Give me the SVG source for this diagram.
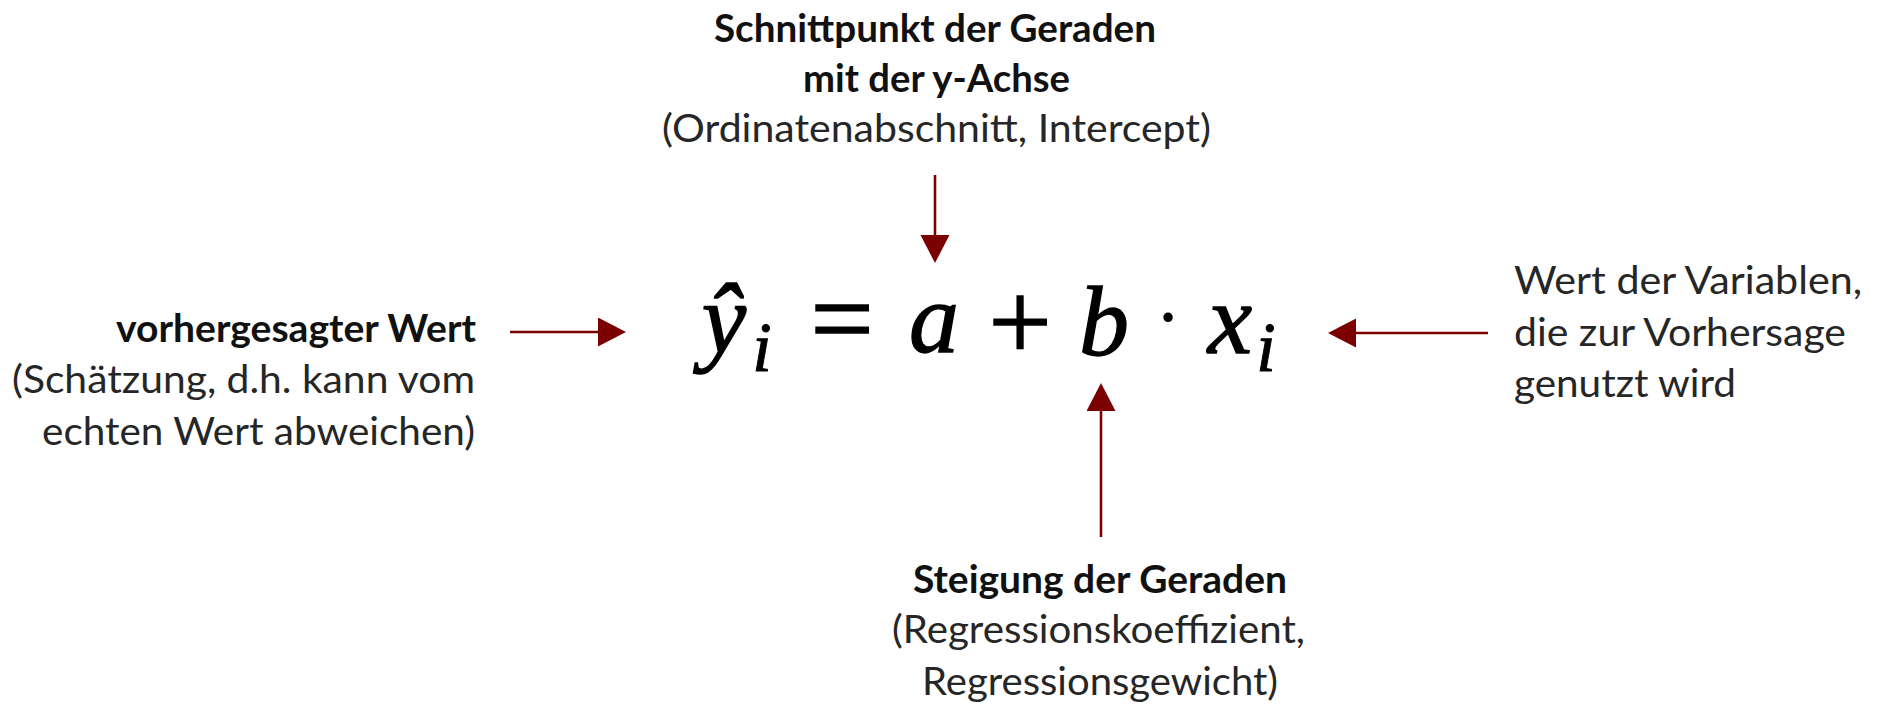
<svg xmlns="http://www.w3.org/2000/svg" width="1880" height="706" viewBox="0 0 1880 706">
<defs>
<style>
.b{font-family:Lato,"Open Sans",sans-serif;font-weight:700;font-size:39px;fill:#111}
.r{font-family:Lato,"Open Sans",sans-serif;font-weight:400;font-size:39px;fill:#262626}
.m{font-family:"Liberation Serif","Times New Roman",serif;font-style:italic;font-size:100px;fill:#000;stroke:#000;stroke-width:1.3}
.s{font-family:"Liberation Serif","Times New Roman",serif;font-style:italic;font-size:70px;fill:#000;stroke:#000;stroke-width:1}
.o{font-family:"Liberation Serif","Times New Roman",serif;font-size:112px;fill:#000;stroke:#000;stroke-width:1.6}
.d{font-family:"Liberation Serif","Times New Roman",serif;font-size:80px;fill:#000}
.c{fill:none;stroke:#7b0000;stroke-width:2.6}
</style>
<marker id="ah" markerUnits="userSpaceOnUse" markerWidth="30" markerHeight="30" refX="0" refY="14.5" orient="auto">
<path d="M0,0 L28,14.5 L0,29 z" fill="#7b0000"/>
</marker>
</defs>
<rect width="1880" height="706" fill="#fff"/>

<g id="formula">
<text class="m" x="724" y="353" text-anchor="middle">ŷ</text>
<text class="s" x="762" y="371" text-anchor="middle">i</text>
<text class="o" x="842" y="356" text-anchor="middle">=</text>
<text class="m" x="934" y="352" text-anchor="middle">a</text>
<text class="o" x="1020" y="360" text-anchor="middle">+</text>
<text class="m" x="1104" y="355" text-anchor="middle">b</text>
<text class="d" x="1168" y="344" text-anchor="middle">·</text>
<text class="m" x="1230" y="353" text-anchor="middle">x</text>
<text class="s" x="1266" y="371" text-anchor="middle">i</text>
</g>

<g id="intercept">
<text class="b" x="714" y="42" textLength="442" lengthAdjust="spacingAndGlyphs">Schnittpunkt der Geraden</text>
<text class="b" x="803" y="92" textLength="267" lengthAdjust="spacingAndGlyphs">mit der y-Achse</text>
<text class="r" x="662" y="142" textLength="549" lengthAdjust="spacingAndGlyphs">(Ordinatenabschnitt, Intercept)</text>
</g>

<g id="predicted">
<text class="b" x="116" y="342" textLength="360" lengthAdjust="spacingAndGlyphs">vorhergesagter Wert</text>
<text class="r" x="12" y="393" textLength="463" lengthAdjust="spacingAndGlyphs">(Schätzung, d.h. kann vom</text>
<text class="r" x="42" y="445" textLength="433" lengthAdjust="spacingAndGlyphs">echten Wert abweichen)</text>
</g>

<g id="predictor">
<text class="r" x="1514" y="294" textLength="348" lengthAdjust="spacingAndGlyphs">Wert der Variablen,</text>
<text class="r" x="1514" y="346" textLength="332" lengthAdjust="spacingAndGlyphs">die zur Vorhersage</text>
<text class="r" x="1514" y="397" textLength="222" lengthAdjust="spacingAndGlyphs">genutzt wird</text>
</g>

<g id="slope">
<text class="b" x="913" y="593" textLength="374" lengthAdjust="spacingAndGlyphs">Steigung der Geraden</text>
<text class="r" x="892" y="643" textLength="413" lengthAdjust="spacingAndGlyphs">(Regressionskoeffizient,</text>
<text class="r" x="922" y="695" textLength="356" lengthAdjust="spacingAndGlyphs">Regressionsgewicht)</text>
</g>

<g id="connectors">
<line class="c" x1="935" y1="175" x2="935" y2="235" marker-end="url(#ah)"/>
<line class="c" x1="510" y1="332" x2="598" y2="332" marker-end="url(#ah)"/>
<line class="c" x1="1488" y1="333" x2="1356" y2="333" marker-end="url(#ah)"/>
<line class="c" x1="1101" y1="537" x2="1101" y2="411" marker-end="url(#ah)"/>
</g>
</svg>
